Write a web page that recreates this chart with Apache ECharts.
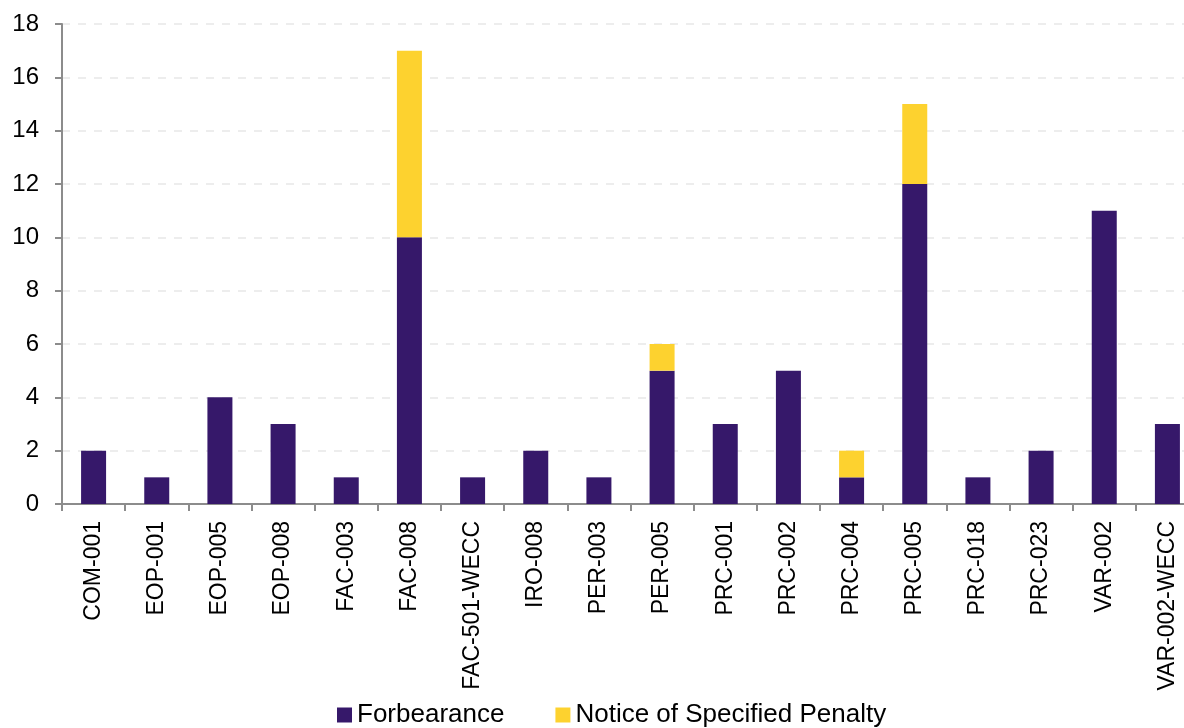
<!DOCTYPE html>
<html>
<head>
<meta charset="utf-8">
<script src="https://cdn.jsdelivr.net/npm/echarts@6/dist/echarts.min.js"></script>
<style>
  html, body { margin: 0; padding: 0; background: #fff; overflow: hidden; }
  #chart { width: 1184px; height: 728px; }
</style>
</head>
<body>
<div id="chart"></div>
<script>
// Standards and counts of each enforcement action type
const categories = ['COM-001', 'EOP-001', 'EOP-005', 'EOP-008', 'FAC-003', 'FAC-008', 'FAC-501-WECC',
  'IRO-008', 'PER-003', 'PER-005', 'PRC-001', 'PRC-002', 'PRC-004', 'PRC-005', 'PRC-018', 'PRC-023',
  'VAR-002', 'VAR-002-WECC'];
const forbearance = [2, 1, 4, 3, 1, 10, 1, 2, 1, 5, 3, 5, 1, 12, 1, 2, 11, 3];
const noticePenalty = [0, 0, 0, 0, 0, 7, 0, 0, 0, 1, 0, 0, 1, 3, 0, 0, 0, 0];
const yTicks = { min: 0, max: 18, interval: 2 };

const FONT = '"Liberation Sans", Arial, sans-serif';
const chart = echarts.init(document.getElementById('chart'), null, { renderer: 'canvas' });

chart.setOption({
  animation: false,
  textStyle: { fontFamily: FONT },
  // plot area runs slightly past the right edge of the canvas
  grid: { left: 62, width: 1137, top: 24, bottom: 224, containLabel: false, outerBoundsMode: 'none' },
  legend: {
    left: 332,
    top: 697,
    itemWidth: 15,
    itemHeight: 15,
    itemGap: 51,
    icon: 'rect',
    textStyle: { fontFamily: FONT, fontSize: 26, color: '#000' },
    data: ['Forbearance', 'Notice of Specified Penalty']
  },
  xAxis: {
    type: 'category',
    data: categories,
    boundaryGap: true,
    axisLine: { lineStyle: { color: '#8c8c8c', width: 2 } },
    axisTick: { show: true, length: 7, lineStyle: { color: '#8c8c8c', width: 2 } },
    axisLabel: { rotate: 90, margin: 17, fontSize: 23, color: '#000', fontFamily: FONT, interval: 0 },
    splitLine: { show: false }
  },
  yAxis: {
    type: 'value',
    min: yTicks.min,
    max: yTicks.max,
    interval: yTicks.interval,
    axisLine: { show: true, lineStyle: { color: '#8c8c8c', width: 2 } },
    axisTick: { show: true, length: 7, lineStyle: { color: '#8c8c8c', width: 2 } },
    axisLabel: { fontSize: 24, color: '#000', margin: 23, fontFamily: FONT },
    splitLine: { show: true, lineStyle: { color: '#e8e8e8', width: 1.5, type: [8, 8] } }
  },
  series: [
    {
      name: 'Forbearance',
      type: 'bar',
      stack: 'total',
      barWidth: 25,
      itemStyle: { color: '#36186a' },
      data: forbearance
    },
    {
      name: 'Notice of Specified Penalty',
      type: 'bar',
      stack: 'total',
      barWidth: 25,
      itemStyle: { color: '#fdd22f' },
      data: noticePenalty.map(v => (v === 0 ? null : v))
    }
  ]
});
</script>
</body>
</html>
